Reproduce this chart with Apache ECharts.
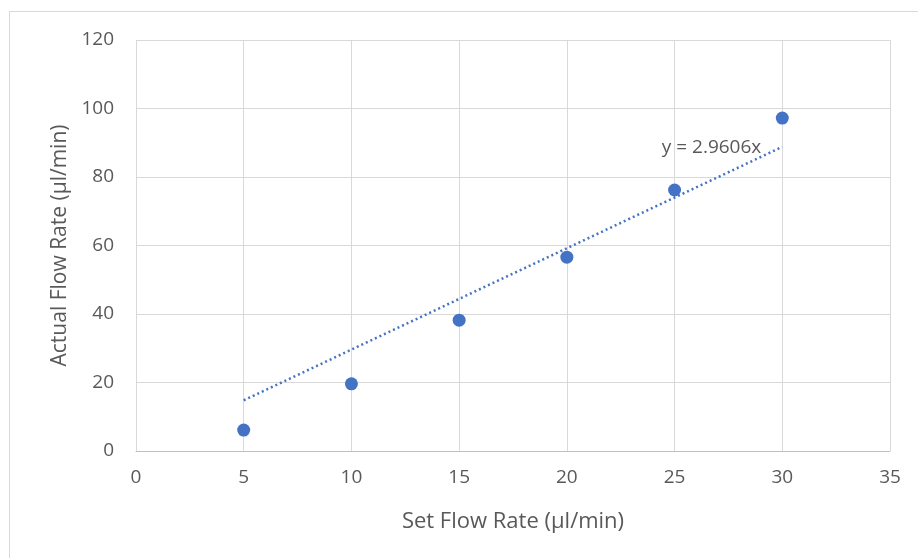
<!DOCTYPE html>
<html>
<head>
<meta charset="utf-8">
<script src="https://cdn.jsdelivr.net/npm/echarts@6/dist/echarts.min.js"></script>
<style>
html,body{margin:0;padding:0;background:#fff;}
#wrap{position:absolute;left:9px;top:11px;width:920px;height:560px;border:1px solid #d9d9d9;box-sizing:border-box;}
#c{position:absolute;left:0;top:0;width:918px;height:558px;}
</style>
</head>
<body>
<div id="wrap"></div>
<div id="c"></div>
<script>
const setRate = [5, 10, 15, 20, 25, 30];
const actualRate = [6.1, 19.6, 38.2, 56.6, 76.2, 97.2];
const trendX = [5, 30];
const trendY = [14.8, 88.8];
const trendLabel = 'y = 2.9606x';
const xTicks = [0, 5, 10, 15, 20, 25, 30, 35];
const yTicks = [0, 20, 40, 60, 80, 100, 120];

const chart = echarts.init(document.getElementById('c'), null, {renderer: 'canvas'});
const font = '"Open Sans"';
const txt = '#595959';
chart.setOption({
  animation: false,
  grid: {left: 136, right: 28, top: 40, bottom: 107, containLabel: false},
  xAxis: {
    type: 'value', min: 0, max: 35, interval: 5,
    name: 'Set Flow Rate (µl/min)', nameLocation: 'middle', nameGap: 60,
    nameTextStyle: {color: txt, fontSize: 22, fontFamily: font},
    axisLine: {show: true, lineStyle: {color: '#bfbfbf', width: 1}},
    axisTick: {show: false},
    axisLabel: {color: txt, fontSize: 19, fontFamily: font, margin: 17},
    splitLine: {show: true, lineStyle: {color: '#d9d9d9', width: 1}}
  },
  yAxis: {
    type: 'value', min: 0, max: 120, interval: 20,
    name: 'Actual Flow Rate (µl/min)', nameLocation: 'middle', nameGap: 64,
    nameTextStyle: {color: txt, fontSize: 21, fontFamily: font},
    axisLine: {show: false},
    axisTick: {show: false},
    axisLabel: {color: txt, fontSize: 19, fontFamily: font, margin: 22},
    splitLine: {show: true, lineStyle: {color: '#d9d9d9', width: 1}}
  },
  series: [
    {
      type: 'line',
      data: trendX.map((x, i) => [x, trendY[i]]),
      symbol: 'none',
      lineStyle: {color: '#4472c4', width: 2.5, type: [2, 3]},
      markPoint: {
        symbol: 'circle', symbolSize: 0,
        data: [{coord: [trendX[1], trendY[1]], value: trendLabel}],
        label: {show: true, formatter: trendLabel, color: txt, fontSize: 19, fontFamily: font,
                position: 'left', offset: [-16, 1]}
      },
      z: 2
    },
    {
      type: 'scatter',
      data: setRate.map((x, i) => [x, actualRate[i]]),
      symbol: 'circle', symbolSize: 13,
      itemStyle: {color: '#4472c4', opacity: 1},
      z: 3
    }
  ]
});
</script>
</body>
</html>
